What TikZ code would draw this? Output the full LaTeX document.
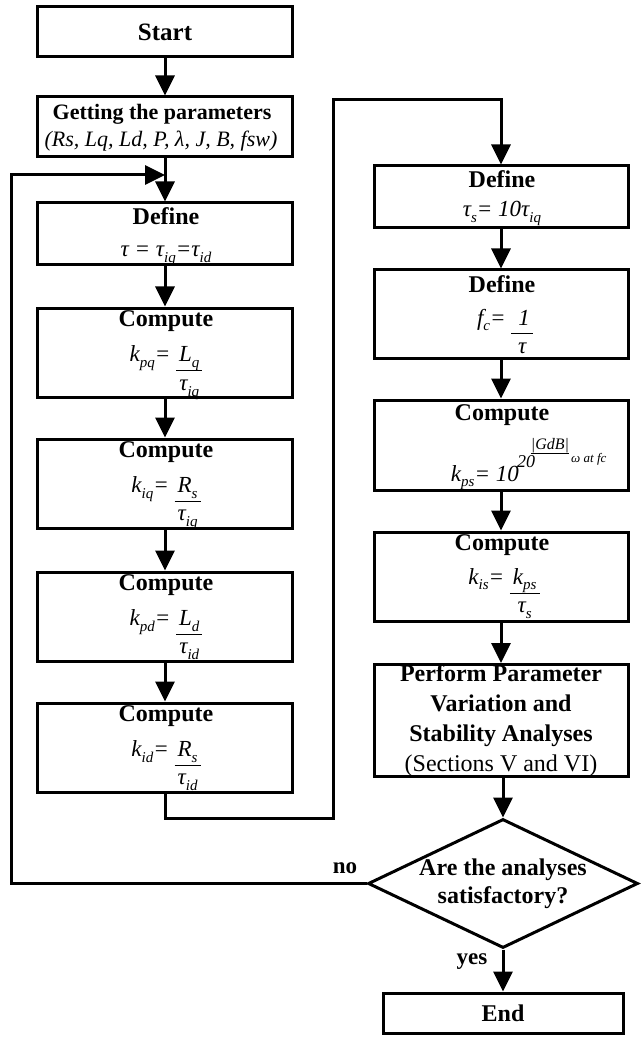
\documentclass[tikz,border=0pt]{standalone}
\usepackage{fontspec}
\setmainfont{Liberation Serif}
\usetikzlibrary{arrows.meta,shapes.geometric}
\newcommand{\sbs}[1]{\raisebox{-0.25em}{\fontsize{15}{15}\selectfont #1}}
\newcommand{\frc}[2]{\setlength{\arrayrulewidth}{1pt}\begin{tabular}[t]{@{\hspace{3pt}}c@{\hspace{3pt}}}#1\\\hline #2\end{tabular}}
\tikzset{
  box/.style={draw, line width=3pt, minimum width=255pt, inner sep=0pt},
  lbl/.style={inner sep=0pt, anchor=base},
  hd/.style={lbl, font=\fontsize{24}{28}\selectfont\bfseries},
  mt/.style={lbl, font=\fontsize{23}{27}\selectfont\itshape},
  ln/.style={line width=3pt},
  arr/.style={line width=3pt, -{Triangle[length=20pt,width=19pt]}}
}
\begin{document}
\begin{tikzpicture}[x=1pt,y=-1pt]
\useasboundingbox (0,0) rectangle (640,1040);
% left column
\node[box, minimum height=50pt, font=\fontsize{25}{28}\selectfont\bfseries] (start) at (165,32) {Start};
\node[box, minimum height=60pt] (get) at (165,127) {};
\node[lbl, font=\fontsize{22}{26}\selectfont\bfseries] (gett) at (162,120) {Getting the parameters};
\node[lbl, font=\fontsize{22}{26}\selectfont\itshape] (getp) at (161,147) {(Rs, Lq, Ld, P, λ, J, B, fsw)};

\node[box, minimum height=62pt] (def1) at (165,234) {};
\node[hd] (def1h) at (166,225) {Define};
\node[mt] (def1m) at (166,257) {τ = τ\sbs{iq}=τ\sbs{id}};

\node[box, minimum height=89pt] (kpq) at (165,352.5) {};
\node[hd] (kpqh) at (166,326.5) {Compute};
\node[mt] (kpqm) at (166,361.5) {k\sbs{pq}= \frc{L\sbs{q}}{τ\sbs{iq}}};

\node[box, minimum height=89pt] (kiq) at (165,483.5) {};
\node[hd] (kiqh) at (166,457.5) {Compute};
\node[mt] (kiqm) at (166,492.5) {k\sbs{iq}= \frc{R\sbs{s}}{τ\sbs{iq}}};

\node[box, minimum height=89pt] (kpd) at (165,616.5) {};
\node[hd] (kpdh) at (166,590.5) {Compute};
\node[mt] (kpdm) at (166,625.5) {k\sbs{pd}= \frc{L\sbs{d}}{τ\sbs{id}}};

\node[box, minimum height=89pt] (kid) at (165,747.5) {};
\node[hd] (kidh) at (166,721.5) {Compute};
\node[mt] (kidm) at (166,756.5) {k\sbs{id}= \frc{R\sbs{s}}{τ\sbs{id}}};

% right column
\node[box, minimum height=62pt, minimum width=254pt] (ts) at (501,197) {};
\node[hd] (tsh) at (502,188) {Define};
\node[mt] (tsm) at (502,217) {τ\sbs{s}= 10τ\sbs{iq}};

\node[box, minimum height=88pt, minimum width=254pt] (fc) at (501,314) {};
\node[hd] (fch) at (502,292) {Define};
\node[mt] (fcm) at (505,325) {f\sbs{c}= \frc{\hspace{4pt}1\hspace{4pt}}{τ}};

\node[box, minimum height=90pt, minimum width=254pt] (kps) at (501,445) {};
\node[hd] (kpsh) at (502,420) {Compute};
\node[lbl, anchor=base east, font=\fontsize{23}{27}\selectfont\itshape] (kpsm) at (519,481) {k\sbs{ps}= 10};
\node[lbl, font=\fontsize{18}{20}\selectfont\itshape] (kps20) at (526,467) {20};
\node[lbl, font=\fontsize{16}{18}\selectfont\itshape] (kpsg) at (550,449) {|GdB|};
\node[lbl, anchor=base west, font=\fontsize{13}{15}\selectfont\itshape] (kpsw) at (571,462) {ω at fc};
\draw[line width=1pt] ([yshift=-4pt]kpsg.base west) -- ([yshift=-4pt]kpsg.base east);

\node[box, minimum height=89pt, minimum width=254pt] (kis) at (501,576.5) {};
\node[hd] (kish) at (502,550) {Compute};
\node[mt] (kism) at (504,584) {k\sbs{is}= \frc{k\sbs{ps}}{τ\sbs{s}}};

\node[box, minimum height=111pt, minimum width=254pt, align=center, font=\fontsize{24}{30}\selectfont\bfseries] (perf) at (501,720.5)
  {Perform Parameter\\Variation and\\Stability Analyses\\{\mdseries (Sections V and VI)}};

\node[draw, diamond, line width=3pt, minimum width=270pt, minimum height=129pt, inner sep=0pt] (dec) at (503,883.5) {};
\node[align=center, inner sep=0pt, font=\fontsize{24}{28}\selectfont\bfseries] (dect) at (503,884) {Are the analyses\\satisfactory?};

\node[box, minimum height=40pt, minimum width=240pt, font=\fontsize{24}{28}\selectfont\bfseries] (end) at (503,1013) {End};

\node[lbl, font=\fontsize{23}{27}\selectfont\bfseries] (no) at (345,873) {no};
\node[lbl, font=\fontsize{23}{27}\selectfont\bfseries] (yes) at (472,964) {yes};

% connectors
\draw[arr] (start) -- (get);
\draw[arr] (get) -- (def1);
\draw[arr] (def1) -- (kpq);
\draw[arr] (kpq) -- (kiq);
\draw[arr] (kiq) -- (kpd);
\draw[arr] (kpd) -- (kid);
\coordinate (c1) at (333,818);
\coordinate (c2) at (333,100);
\draw[arr] (kid.south) |- (c1) -- (c2) -| (ts.north);
\draw[arr] (ts) -- (fc);
\draw[arr] (fc) -- (kps);
\draw[arr] (kps) -- (kis);
\draw[arr] (kis) -- (perf);
\draw[arr] (perf.south -| dec.north) -- (dec.north);
\draw[arr] (dec.south) -- (end.north -| dec.south);
\coordinate (lx) at (11,0);
\coordinate (loopin) at (165,175);
\draw[arr] (dec.west) -- (dec.west -| lx) |- (loopin);
\end{tikzpicture}
\end{document}
